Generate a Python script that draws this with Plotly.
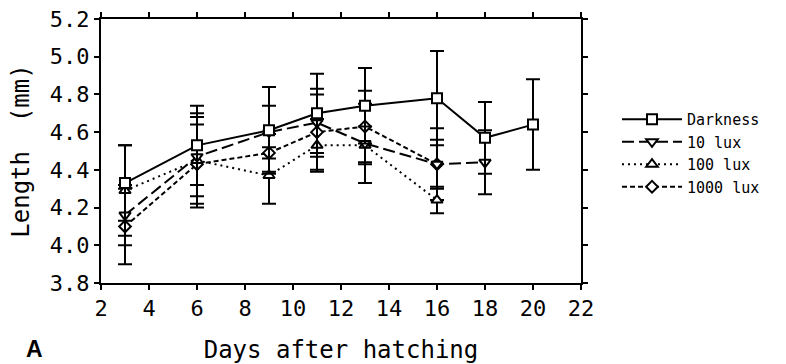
import plotly.graph_objects as go

# ---- data ----
days_dark = [3, 6, 9, 11, 13, 16, 18, 20]
len_dark = [4.33, 4.53, 4.61, 4.70, 4.74, 4.78, 4.57, 4.64]
err_dark = [0.20, 0.21, 0.23, 0.21, 0.20, 0.25, 0.19, 0.24]

days_10 = [3, 6, 9, 11, 13, 16, 18]
len_10 = [4.16, 4.47, 4.60, 4.65, 4.54, 4.43, 4.44]
err_10 = [0.16, 0.21, 0.14, 0.18, 0.21, 0.13, 0.17]

days_100 = [3, 6, 9, 11, 13, 16]
len_100 = [4.29, 4.45, 4.37, 4.53, 4.53, 4.24]
err_100 = [0.24, 0.25, 0.15, 0.14, 0.10, 0.07]

days_1000 = [3, 6, 9, 11, 13, 16]
len_1000 = [4.10, 4.43, 4.49, 4.60, 4.63, 4.43]
err_1000 = [0.20, 0.21, 0.10, 0.20, 0.19, 0.19]

series = [
    ("Darkness", days_dark, len_dark, err_dark, "solid", "square", 1),
    ("10 lux", days_10, len_10, err_10, "12px,5px", "triangle-down", 2),
    ("100 lux", days_100, len_100, err_100, "2px,4px", "triangle-up", 3),
    ("1000 lux", days_1000, len_1000, err_1000, "5px,3px", "diamond", 4),
]

FONT = "DejaVu Sans Mono"
L, R, T, B = 101, 205, 19, 81
W, H = 786, 364
pw = W - L - R
ph = H - T - B

fig = go.Figure()
for name, x, y, e, dash, sym, rank in reversed(series):
    fig.add_trace(go.Scatter(
        x=x, y=y, name=name, mode="lines+markers", legendrank=rank,
        line=dict(color="black", width=2, dash=dash),
        marker=dict(symbol=sym, size=10 if sym != "diamond" else 9,
                    color="white", line=dict(color="black", width=2)),
        error_y=dict(type="data", array=e, visible=True, color="black",
                     thickness=2, width=7),
    ))

fig.update_layout(
    width=W, height=H,
    margin=dict(l=L, r=R, t=T, b=B, autoexpand=False),
    paper_bgcolor="white", plot_bgcolor="white",
    font=dict(family=FONT, color="black", size=22),
    showlegend=True,
    legend=dict(x=(617 - L) / pw, y=(H - B - 153) / ph, xanchor="left", yanchor="middle",
                font=dict(family=FONT, size=15), tracegroupgap=0,
                itemwidth=60, bgcolor="rgba(0,0,0,0)"),
    xaxis=dict(range=[2, 22], dtick=2, tick0=2, showline=True, linewidth=2,
               linecolor="black", mirror="ticks", ticks="outside", ticklen=5,
               tickwidth=2, tickcolor="black", showgrid=False, zeroline=False,
               automargin=False,
               tickfont=dict(size=22, family=FONT),
               title=dict(text="Days after hatching", font=dict(size=24, family=FONT),
                          standoff=35)),
    yaxis=dict(range=[3.8, 5.2], dtick=0.2, tick0=3.8, tickformat=".1f",
               showline=True, linewidth=2, linecolor="black", mirror="ticks",
               ticks="outside", ticklen=5, tickwidth=2, tickcolor="black",
               showgrid=False, zeroline=False, automargin=False,
               tickfont=dict(size=22, family=FONT),
               title=dict(text="Length  (mm)", font=dict(size=24, family=FONT),
                          standoff=13)),
    annotations=[dict(text="<b>A</b>", x=(34 - L) / pw, y=(H - B - 364) / ph,
                      xref="paper", yref="paper", xanchor="center", yanchor="bottom",
                      showarrow=False, font=dict(family="Liberation Sans", size=23))],
)

fig.write_html("out.html")
